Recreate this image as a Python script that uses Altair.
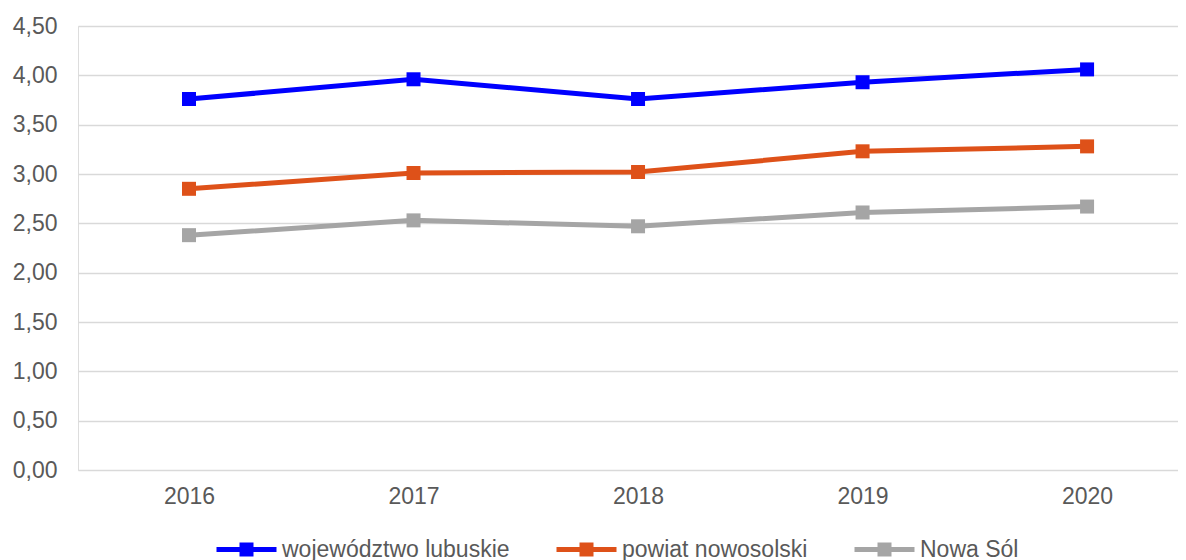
import altair as alt
import pandas as pd

years = [2016, 2017, 2018, 2019, 2020]
series = ["województwo lubuskie", "powiat nowosolski", "Nowa Sól"]
woj_lubuskie = [3.76, 3.96, 3.76, 3.93, 4.06]
powiat_nowosolski = [2.85, 3.01, 3.02, 3.23, 3.28]
nowa_sol = [2.38, 2.53, 2.47, 2.61, 2.67]
colors = ["#0000FF", "#DE5119", "#A5A5A5"]
y_ticks = [0, 0.5, 1.0, 1.5, 2.0, 2.5, 3.0, 3.5, 4.0, 4.5]

rows = []
for s, vals in zip(series, [woj_lubuskie, powiat_nowosolski, nowa_sol]):
    for yr, v in zip(years, vals):
        rows.append({"rok": yr, "seria": s, "wartosc": v})
df = pd.DataFrame(rows)

FONT = "Liberation Sans"
TXT = "#595959"
FS = 23

x = alt.X(
    "rok:Q",
    scale=alt.Scale(domain=[2015.5056, 2020.405], nice=False, zero=False),
    axis=alt.Axis(values=years, format="d", title=None, grid=False, domain=False,
                  ticks=False, labelFontSize=FS, labelColor=TXT, labelFont=FONT,
                  labelPadding=15),
)
y = alt.Y(
    "wartosc:Q",
    scale=alt.Scale(domain=[0, 4.5], nice=False),
    axis=alt.Axis(values=y_ticks, labelExpr="replace(format(datum.value, '.2f'), '.', ',')",
                  title=None, domain=False, ticks=False, grid=True, gridColor="#D9D9D9",
                  gridWidth=1.4, labelFontSize=FS, labelColor=TXT, labelFont=FONT,
                  labelPadding=21),
)

legend = alt.Legend(
    title=None, orient="none", legendX=136, legendY=491, direction="horizontal",
    symbolType="M-1,0L1,0M-0.15,-0.15L0.15,-0.15L0.15,0.15L-0.15,0.15Z",
    symbolSize=3600, symbolStrokeWidth=5, labelFontSize=FS, labelColor=TXT,
    labelFont=FONT, labelLimit=400, columnPadding=36, labelOffset=3, padding=0,
    symbolOpacity=1,
)
color = alt.Color("seria:N", scale=alt.Scale(domain=series, range=colors), legend=legend)

base = alt.Chart(df).encode(x=x, y=y, color=color, detail="seria:N")
lines = base.mark_line(strokeWidth=5)
points = base.mark_point(shape="square", filled=True, size=196, opacity=1)

chart = (lines + points).properties(
    width=1100, height=444,
    autosize=alt.AutoSizeParams(type="none"),
    padding={"left": 70, "top": 18, "right": 0, "bottom": 100},
).configure_view(stroke=None).configure(background="white")

chart.save("out.html", embed_options={"renderer": "svg", "actions": False})
